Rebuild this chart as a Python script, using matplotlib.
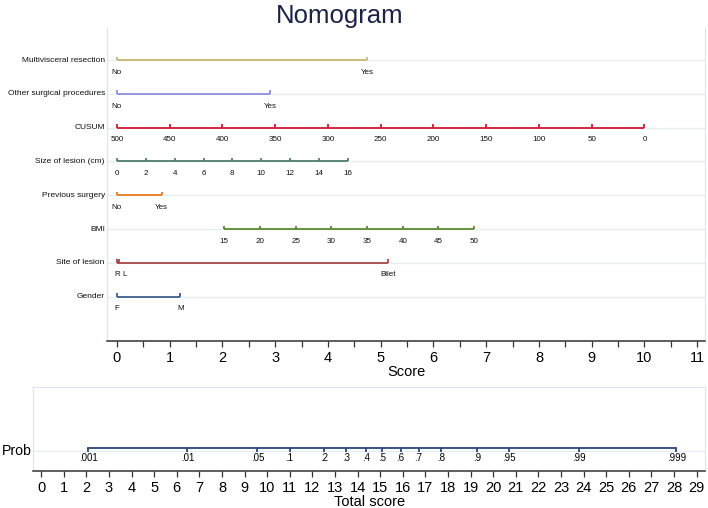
import matplotlib
matplotlib.use("Agg")
import matplotlib.pyplot as plt

plt.rcParams['font.family'] = ['Liberation Sans', 'DejaVu Sans']

# Predictor rows (top to bottom): label, tick labels, points on the Score axis
rows = ["Multivisceral resection", "Other surgical procedures", "CUSUM",
        "Size of lesion (cm)", "Previous surgery", "BMI", "Site of lesion", "Gender"]

multi_labels = ["No", "Yes"]
multi_pts = [0, 4.74]
other_labels = ["No", "Yes"]
other_pts = [0, 2.90]
cusum_labels = ["500", "450", "400", "350", "300", "250", "200", "150", "100", "50", "0"]
cusum_pts = [0, 1, 2, 3, 4, 5, 6, 7, 8, 9, 10]
size_labels = ["0", "2", "4", "6", "8", "10", "12", "14", "16"]
size_pts = [0, 0.55, 1.10, 1.65, 2.18, 2.73, 3.28, 3.83, 4.38]
prev_labels = ["No", "Yes"]
prev_pts = [0, 0.85]
bmi_labels = ["15", "20", "25", "30", "35", "40", "45", "50"]
bmi_pts = [2.03, 2.71, 3.39, 4.06, 4.74, 5.43, 6.09, 6.77]
site_labels = ["R", "L", "Bilet"]
site_pts = [0, 0.03, 5.14]
gender_labels = ["F", "M"]
gender_pts = [0, 1.20]

row_labels = [multi_labels, other_labels, cusum_labels, size_labels,
              prev_labels, bmi_labels, site_labels, gender_labels]
row_pts = [multi_pts, other_pts, cusum_pts, size_pts,
           prev_pts, bmi_pts, site_pts, gender_pts]
row_colors = ["#c9b66e", "#8f8fe0", "#d11a33", "#4f7d6c",
              "#e9781a", "#5b8a32", "#a64646", "#3d5f8c"]

# Probability scale on the Total score axis
prob_labels = [".001", ".01", ".05", ".1", ".2", ".3", ".4", ".5", ".6", ".7",
               ".8", ".9", ".95", ".99", ".999"]
prob_pts = [2.08, 6.47, 9.57, 10.99, 12.53, 13.5, 14.38, 15.1, 15.9, 16.7,
            17.7, 19.3, 20.7, 23.8, 28.1]

grid_c = "#e4edf0"
frame_c = "#dce7eb"

fig = plt.figure(figsize=(7.08, 5.08), dpi=100)
fig.text(0.48, 0.969, "Nomogram", ha='center', va='center', fontsize=18.5,
         color="#1b2246")

# ---- top panel ----
ax = fig.add_axes([0.151, 0.329, 0.845, 0.618])
ax.set_xlim(-0.19, 11.15)
ax.set_ylim(8.31, -0.98)
for i, name in enumerate(rows):
    ax.axhline(i, color=grid_c, lw=0.9, zorder=0)
    pts = row_pts[i]
    c = row_colors[i]
    ax.plot([pts[0], pts[-1]], [i, i], color=c, lw=1.3, solid_capstyle='butt')
    ax.vlines(pts, i - 0.1, i, color=c, lw=1.3)
    prev_x = None
    for lab, x in zip(row_labels[i], pts):
        lx = x
        if prev_x is not None and lx - prev_x < 0.12:
            lx = prev_x + 0.15
        ax.text(lx, i + 0.36, lab, ha='center', va='center', fontsize=5.8,
                color='#111111')
        prev_x = lx
    ax.text(-0.23, i, name, ha='right', va='center', fontsize=6.0,
            color='#111111', clip_on=False)

ax.set_xticks(range(0, 12))
ax.set_xticks([x + 0.5 for x in range(0, 11)], minor=True)
ax.set_yticks([])
ax.tick_params(axis='x', which='both', length=4, width=0.9, color='#333333',
               labelsize=10.5, pad=3)
for s in ['left', 'right', 'top']:
    ax.spines[s].set_color(frame_c)
    ax.spines[s].set_linewidth(0.8)
ax.spines['top'].set_visible(False)
ax.spines['bottom'].set_color('#333333')
ax.spines['bottom'].set_linewidth(1.1)
ax.set_xlabel("Score", fontsize=10.5, labelpad=0)

# ---- bottom panel ----
bx = fig.add_axes([0.047, 0.073, 0.949, 0.165])
bx.set_xlim(-0.35, 29.38)
bx.set_ylim(0, 1)
py = 0.27
bx.axhline(py - 0.03, color=grid_c, lw=0.9, zorder=0)
bx.plot([prob_pts[0], prob_pts[-1]], [py, py], color="#2b4a78", lw=1.3)
bx.vlines(prob_pts, py - 0.05, py, color="#2b4a78", lw=1.3)
for lab, x in zip(prob_labels, prob_pts):
    bx.text(x, py - 0.11, lab, ha='center', va='center', fontsize=7)
fig.text(0.002, 0.112, "Prob", ha='left', va='center', fontsize=10.2)
bx.set_xticks(range(0, 30))
bx.set_yticks([])
bx.tick_params(axis='x', length=4, width=0.9, color='#333333', labelsize=10.5,
               pad=3)
for s in ['left', 'right', 'top']:
    bx.spines[s].set_color(frame_c)
    bx.spines[s].set_linewidth(0.8)
bx.spines['bottom'].set_color('#333333')
bx.spines['bottom'].set_linewidth(1.1)
bx.set_xlabel("Total score", fontsize=10.5, labelpad=0)

fig.savefig("out.png", dpi=100)
